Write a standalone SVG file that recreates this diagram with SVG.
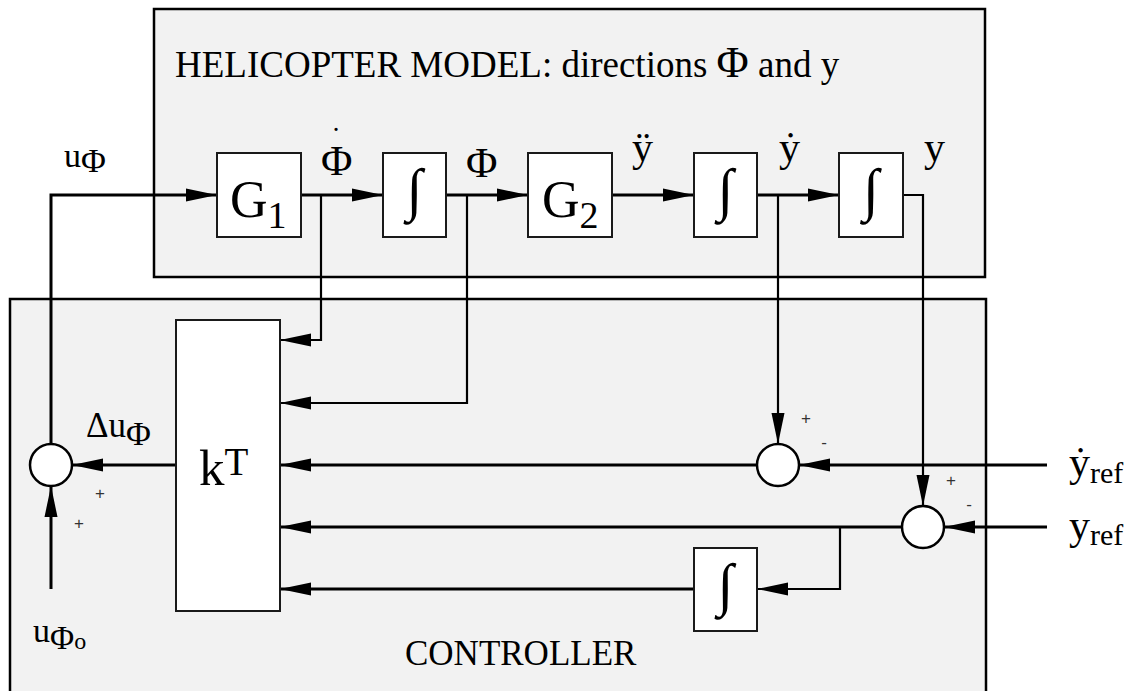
<svg xmlns="http://www.w3.org/2000/svg" width="1136" height="691" viewBox="0 0 1136 691">
<style>
.panel{fill:#f2f2f2;stroke:#000;stroke-width:2.5}
.blk{fill:#fff;stroke:#1a1a1a;stroke-width:2}
.sum{fill:#fff;stroke:#000;stroke-width:2.5}
.sig{fill:none;stroke:#000;stroke-width:3}
.fb{fill:none;stroke:#000;stroke-width:2.2}
text{font-family:"Liberation Serif","Times New Roman",serif;fill:#000}
.sign{font-family:"Liberation Sans",Arial,sans-serif;font-size:17px;fill:#333;text-anchor:middle}
.int{font-size:58px;text-anchor:middle}
</style>
<defs>
<marker id="ah" markerUnits="userSpaceOnUse" markerWidth="32" markerHeight="14" refX="31" refY="7" orient="auto">
<path d="M0,0.5 L31,7 L0,13.5 z" fill="#000"/>
</marker>
</defs>
<g id="helicopter-model">
<rect class="panel" x="154" y="9" width="831" height="268"/>
<text x="175" y="77" font-size="37">HELICOPTER MODEL: directions <tspan font-size="44">Φ</tspan> and y</text>
</g>
<g id="controller">
<rect class="panel" x="10" y="299" width="976" height="400"/>
<text x="405" y="665" font-size="35">CONTROLLER</text>
</g>
<g id="connectors">
<path class="sig" d="M51,444 V195 H217" marker-end="url(#ah)"/>
<path class="sig" d="M301,195 H383" marker-end="url(#ah)"/>
<path class="sig" d="M446,195 H528" marker-end="url(#ah)"/>
<path class="sig" d="M612,195 H694" marker-end="url(#ah)"/>
<path class="sig" d="M757,195 H839" marker-end="url(#ah)"/>
<path class="fb" d="M903,195 H923 V506" marker-end="url(#ah)"/>
<path class="fb" d="M321,195 V340 H280" marker-end="url(#ah)"/>
<path class="fb" d="M467,195 V403 H280" marker-end="url(#ah)"/>
<path class="fb" d="M778,195 V444" marker-end="url(#ah)"/>
<path class="sig" d="M757,465 H280" marker-end="url(#ah)"/>
<path class="sig" d="M1047,465 H799" marker-end="url(#ah)"/>
<path class="sig" d="M902,527 H280" marker-end="url(#ah)"/>
<path class="sig" d="M1047,527 H944" marker-end="url(#ah)"/>
<path class="fb" d="M840,527 V589 H757" marker-end="url(#ah)"/>
<path class="sig" d="M694,589 H280" marker-end="url(#ah)"/>
<path class="sig" d="M176,465 H72" marker-end="url(#ah)"/>
<path class="sig" d="M51,589 V486" marker-end="url(#ah)"/>
</g>
<g id="G1">
<rect class="blk" x="217" y="153" width="84" height="84"/>
<text x="230" y="217" font-size="52">G<tspan font-size="38" dy="11">1</tspan></text>
</g>
<g id="int1">
<rect class="blk" x="383" y="153" width="63" height="84"/>
<text class="int" x="414.5" y="209">∫</text>
</g>
<g id="G2">
<rect class="blk" x="528" y="153" width="84" height="84"/>
<text x="542" y="217" font-size="52">G<tspan font-size="38" dy="11">2</tspan></text>
</g>
<g id="int2">
<rect class="blk" x="694" y="153" width="63" height="84"/>
<text class="int" x="725.5" y="209">∫</text>
</g>
<g id="int3">
<rect class="blk" x="839" y="153" width="64" height="84"/>
<text class="int" x="871" y="209">∫</text>
</g>
<g id="kT">
<rect class="blk" x="176" y="320" width="104" height="291"/>
<text x="199" y="485" font-size="51">k<tspan font-size="39" dy="-10">T</tspan></text>
</g>
<g id="int4">
<rect class="blk" x="694" y="548" width="63" height="83"/>
<text class="int" x="725.5" y="604">∫</text>
</g>
<g id="sum-u">
<circle class="sum" cx="51" cy="465" r="21"/>
<text class="sign" x="100" y="499">+</text>
<text class="sign" x="79" y="529">+</text>
</g>
<g id="sum-ydot">
<circle class="sum" cx="778" cy="465" r="21"/>
<text class="sign" x="806" y="424">+</text>
<text class="sign" x="824" y="448">-</text>
</g>
<g id="sum-y">
<circle class="sum" cx="923" cy="527" r="21"/>
<text class="sign" x="951" y="486">+</text>
<text class="sign" x="969" y="510">-</text>
</g>
<g id="labels">
<text x="64" y="167" font-size="34">u<tspan font-size="34" dy="5">Φ</tspan></text>
<text x="321" y="175" font-size="43">Φ<tspan x="331" y="148" font-size="30">˙</tspan></text>
<text x="466" y="177" font-size="43">Φ</text>
<text x="632" y="161" font-size="42">ÿ</text>
<text x="779" y="161" font-size="42">ẏ</text>
<text x="924" y="161" font-size="42">y</text>
<text x="86" y="437" font-size="35">Δu<tspan font-size="34" dy="8">Φ</tspan></text>
<text x="33" y="642" font-size="34">u<tspan font-size="33" dy="7">Φ</tspan><tspan font-size="24">o</tspan></text>
<text x="1069" y="476" font-size="42">ẏ<tspan font-size="30" dy="7">ref</tspan></text>
<text x="1069" y="539" font-size="42">y<tspan font-size="30" dy="6">ref</tspan></text>
</g>
</svg>
